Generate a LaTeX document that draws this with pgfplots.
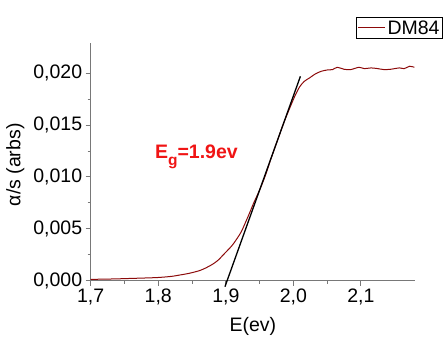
\documentclass[border=0pt]{standalone}
\usepackage{pgfplots}
\pgfplotsset{compat=1.18}
\usepackage{fontspec}
\setmainfont{Liberation Sans}
\definecolor{curvecol}{RGB}{140,10,10}
\definecolor{axgray}{RGB}{120,120,120}
\definecolor{egred}{RGB}{240,20,20}
\begin{document}
\begin{tikzpicture}
\useasboundingbox (-90.7pt,-57.3pt) rectangle (353.3pt,280.7pt);
\begin{axis}[
  at={(0pt,0pt)}, anchor=south west,
  scale only axis, width=324.3pt, height=237.7pt,
  xmin=1.7, xmax=2.18, ymin=0, ymax=0.0229,
  axis x line*=bottom, axis y line*=left,
  axis line style={axgray, line width=0.9pt},
  every tick/.style={axgray, line width=0.9pt},
  tick align=outside,
  major tick length=5pt, minor tick length=3pt,
  xtick={1.7,1.8,1.9,2.0,2.1}, minor x tick num=1,
  ytick={0,0.005,0.01,0.015,0.02}, minor y tick num=1,
  scaled y ticks=false, scaled x ticks=false,
  /pgf/number format/assume math mode=true,
  xticklabel style={/pgf/number format/.cd, fixed, fixed zerofill, precision=1, use comma},
  yticklabel style={/pgf/number format/.cd, fixed, fixed zerofill, precision=3, use comma},
  tick label style={font=\fontsize{19.5}{22}\selectfont},
  label style={font=\fontsize{19.5}{22}\selectfont},
  xlabel={E(ev)}, ylabel={α/s (arbs)},
  xlabel style={yshift=-5pt},
  ylabel style={xshift=-3pt, yshift=2pt},
  clip=false,
  legend style={at={(1.086,1.109)}, anchor=north east, draw=black, line width=0.7pt,
    font=\fontsize{19.5}{22}\selectfont, inner sep=1pt, row sep=0pt},
  legend image code/.code={\draw[curvecol, line width=1pt] (0pt,0pt) -- (27pt,0pt);},
]
\addplot[curvecol, line width=1pt, smooth] coordinates {
(1.70,0.00013) (1.72,0.00015) (1.74,0.00018) (1.76,0.00022) (1.78,0.00026)
(1.80,0.00031) (1.82,0.00042) (1.832,0.00055) (1.845,0.0007) (1.861,0.00097)
(1.871,0.00125) (1.881,0.00161) (1.889,0.0020) (1.896,0.00248) (1.903,0.00295)
(1.910,0.00345) (1.917,0.0041) (1.923,0.00473) (1.929,0.0056) (1.935,0.0065)
(1.941,0.00745) (1.947,0.0083) (1.953,0.0092) (1.960,0.0104) (1.966,0.0116)
(1.972,0.0127) (1.978,0.0138) (1.984,0.0149) (1.990,0.0159) (1.997,0.0170)
(2.003,0.0179) (2.009,0.01865) (2.016,0.0192) (2.024,0.01954) (2.032,0.0199)
(2.041,0.02017) (2.050,0.0203) (2.058,0.02034) (2.065,0.02056) (2.075,0.02037)
(2.085,0.02034) (2.097,0.02056) (2.105,0.02043) (2.115,0.0205) (2.125,0.02043)
(2.134,0.02034) (2.144,0.02037) (2.157,0.0205) (2.164,0.02043) (2.172,0.02066)
(2.179,0.02056)
};
\addlegendentry{DM84}
\addplot[black, line width=1.3pt, forget plot] coordinates {(1.8987,-0.00058) (2.0104,0.01969)};
\node[anchor=base west, text=egred, font=\fontsize{19.5}{22}\selectfont\bfseries, inner sep=0pt]
  at (axis cs:1.795,0.01175) {E\raisebox{-0.33em}{\fontsize{15.5}{16}\selectfont g}=1.9ev};
\end{axis}
\end{tikzpicture}
\end{document}
